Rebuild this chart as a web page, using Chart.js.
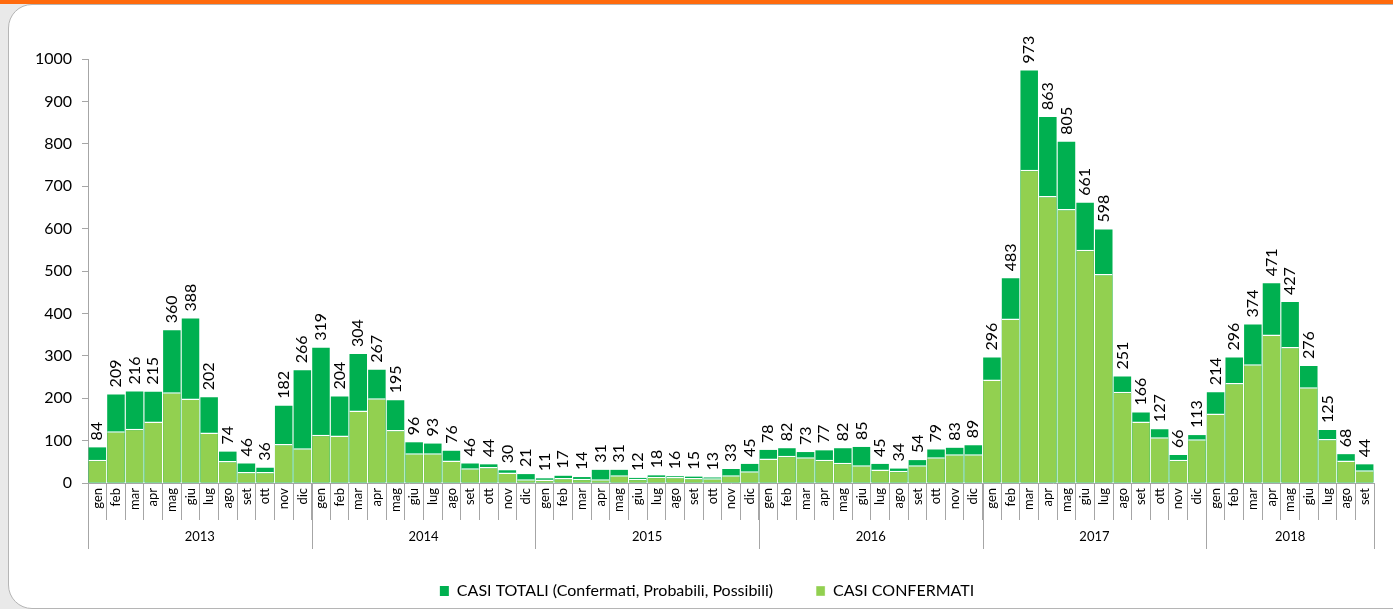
<!DOCTYPE html>
<html>
<head>
<meta charset="utf-8">
<script src="https://cdn.jsdelivr.net/npm/chart.js@4/dist/chart.umd.min.js"></script>
<style>
	body { margin: 0; background: #e9e9e9; width: 1393px; height: 609px; overflow: hidden; position: relative; }
	#topbar { position: absolute; left: 0; top: 0; width: 1393px; height: 4px; background: #ff6a0d; }
	#panel { position: absolute; left: 8px; top: 4px; width: 1400px; height: 603px; background: #fff;
		border: 1px solid #b5b5b5; border-radius: 24px 0 0 24px; }
	#wrap { position: absolute; left: 0; top: 0; width: 1393px; height: 609px; }
</style>
</head>
<body>
<div id="topbar"></div>
<div id="panel"></div>
<div id="wrap"><canvas id="chart" width="1393" height="609"></canvas></div>
<script>
const monthNames = ["gen", "feb", "mar", "apr", "mag", "giu", "lug", "ago", "set", "ott", "nov", "dic"];
const years = ["2013", "2014", "2015", "2016", "2017", "2018"];
const monthsPerYear = [12, 12, 12, 12, 12, 9];

const casiTotali = [
	84, 209, 216, 215, 360, 388, 202, 74, 46, 36, 182, 266,
	319, 204, 304, 267, 195, 96, 93, 76, 46, 44, 30, 21,
	11, 17, 14, 31, 31, 12, 18, 16, 15, 13, 33, 45,
	78, 82, 73, 77, 82, 85, 45, 34, 54, 79, 83, 89,
	296, 483, 973, 863, 805, 661, 598, 251, 166, 127, 66, 113,
	214, 296, 374, 471, 427, 276, 125, 68, 44
];
const casiConfermati = [
	55, 122, 128, 145, 214, 199, 119, 52, 26, 26, 92, 82,
	114, 112, 171, 200, 125, 70, 70, 53, 35, 38, 25, 9,
	8, 12, 10, 9, 18, 10, 15, 14, 12, 11, 18, 28,
	58, 64, 61, 55, 48, 42, 32, 29, 42, 61, 68, 68,
	244, 388, 739, 677, 646, 550, 493, 215, 145, 108, 55, 103,
	164, 236, 280, 350, 321, 226, 104, 53, 30
];

const labels = [];
years.forEach((y, i) => {
	for (let m = 0; m < monthsPerYear[i]; m++) labels.push(monthNames[m]);
});

const FONT = "Lato, 'Open Sans', sans-serif";
const axisGray = "#a6a6a6";

// total values written vertically above each bar
const totalLabels = {
	id: "totalLabels",
	afterDatasetsDraw(chart) {
		const ctx = chart.ctx;
		const meta = chart.getDatasetMeta(0);
		ctx.save();
		ctx.font = "16px " + FONT;
		ctx.fillStyle = "#000";
		ctx.textAlign = "left";
		ctx.textBaseline = "middle";
		meta.data.forEach((bar, i) => {
			ctx.save();
			ctx.translate(bar.x, bar.y - 7);
			ctx.rotate(-Math.PI / 2);
			ctx.fillText(String(casiTotali[i]), 0, 0);
			ctx.restore();
		});
		ctx.restore();
	}
};

// year row below the month labels
const yearAxis = {
	id: "yearAxis",
	afterLayout(chart) {
		// legend sits a little right of centre in the original
		const lg = chart.legend;
		if (lg) { lg.left += 20; lg.right += 20; }
	},
	afterDraw(chart) {
		const ctx = chart.ctx;
		const x = chart.scales.x;
		const half = (x.getPixelForValue(1) - x.getPixelForValue(0)) / 2;
		const top = chart.chartArea.bottom;
		ctx.save();
		ctx.strokeStyle = axisGray;
		ctx.lineWidth = 1;
		ctx.font = "13px " + FONT;
		ctx.fillStyle = "#000";
		ctx.textAlign = "center";
		ctx.textBaseline = "middle";
		let start = 0;
		const edges = [x.getPixelForValue(0) - half];
		years.forEach((y, i) => {
			const end = start + monthsPerYear[i];
			const left = x.getPixelForValue(start) - half;
			const right = x.getPixelForValue(end - 1) + half;
			edges.push(right);
			ctx.fillText(y, (left + right) / 2, top + 54);
			start = end;
		});
		edges.forEach((e) => {
			const px = Math.round(e) + 0.5;
			ctx.beginPath();
			ctx.moveTo(px, top);
			ctx.lineTo(px, top + 66);
			ctx.stroke();
		});
		ctx.restore();
	}
};

new Chart(document.getElementById("chart"), {
	type: "bar",
	data: {
		labels: labels,
		datasets: [
			{
				label: "CASI TOTALI (Confermati, Probabili, Possibili)",
				data: casiTotali,
				backgroundColor: "#00b050",
				borderWidth: 0,
				order: 1,
				categoryPercentage: 0.94,
				barPercentage: 1
			},
			{
				label: "CASI CONFERMATI",
				data: casiConfermati,
				backgroundColor: "#92d050",
				borderColor: "#ffffff",
				borderWidth: { top: 1.5, left: 0, right: 0, bottom: 0 },
				borderSkipped: false,
				order: 0,
				categoryPercentage: 0.94,
				barPercentage: 1
			}
		]
	},
	options: {
		responsive: false,
		animation: false,
		devicePixelRatio: 1,
		layout: { padding: { left: 0, right: 19, top: 59, bottom: 0 } },
		scales: {
			x: {
				stacked: true,
				grid: { offset: true, drawOnChartArea: false, tickLength: 37, color: axisGray },
				border: { color: axisGray },
				ticks: {
					autoSkip: false,
					minRotation: 90,
					maxRotation: 90,
					padding: -32,
					color: "#000",
					font: { family: FONT, size: 13 }
				},
				afterFit(scale) { scale.height = 57; }
			},
			y: {
				stacked: false,
				min: 0,
				max: 1000,
				ticks: {
					stepSize: 100,
					padding: 10,
					color: "#000",
					font: { family: FONT, size: 16 },
					callback: (v) => String(v)
				},
				grid: { drawOnChartArea: false, tickLength: 6, color: axisGray },
				border: { color: axisGray },
				afterFit(scale) { scale.width = 88; }
			}
		},
		plugins: {
			legend: {
				position: "bottom",
				labels: {
					boxWidth: 9,
					boxHeight: 10,
					padding: 43,
					color: "#000",
					font: { family: FONT, size: 16 },
					sort: (a, b) => a.datasetIndex - b.datasetIndex
				}
			},
			tooltip: { enabled: false }
		}
	},
	plugins: [totalLabels, yearAxis]
});
</script>
</body>
</html>
